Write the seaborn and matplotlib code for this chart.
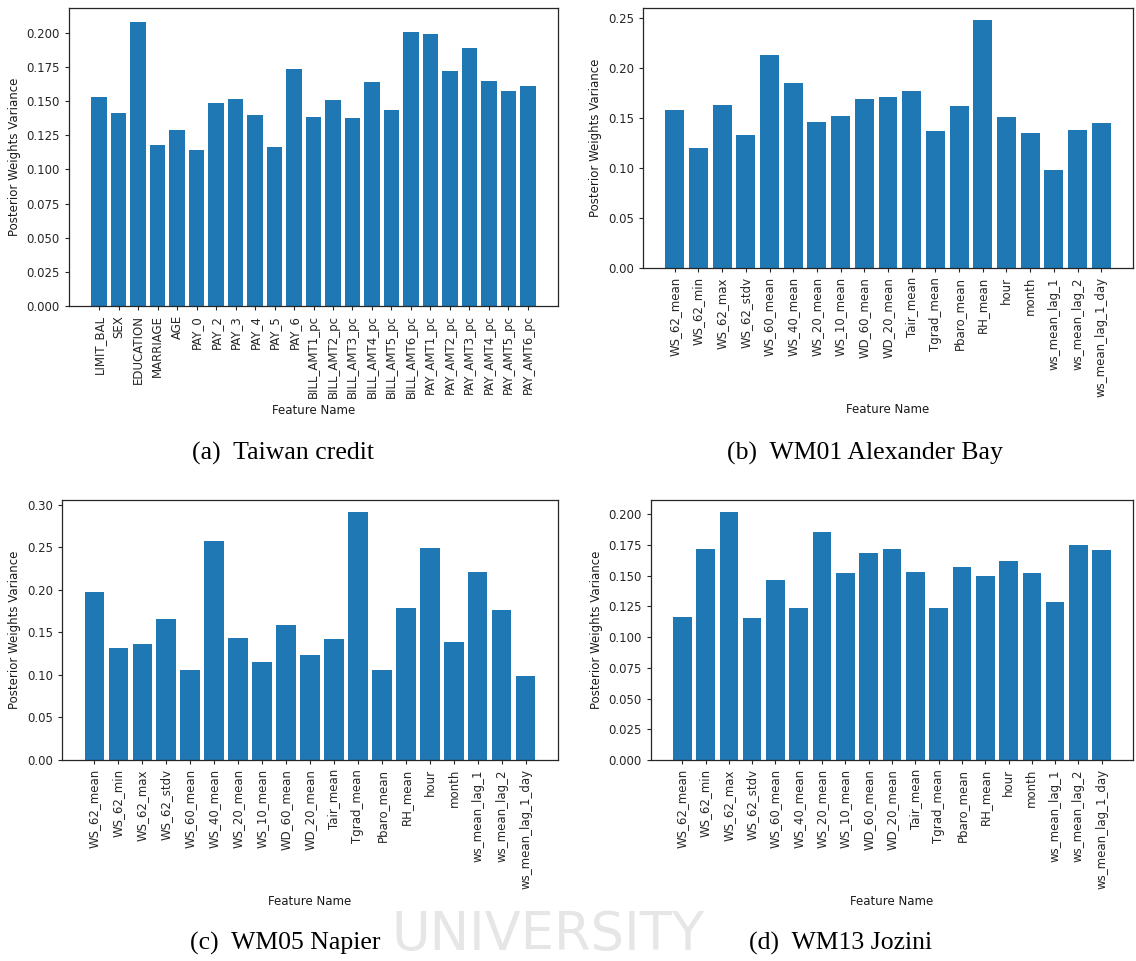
import matplotlib
matplotlib.use("Agg")
import matplotlib.pyplot as plt
import seaborn as sns
import pandas as pd

# Features and posterior weight variances for each dataset
taiwan_features = [
    "LIMIT_BAL", "SEX", "EDUCATION", "MARRIAGE", "AGE", "PAY_0", "PAY_2",
    "PAY_3", "PAY_4", "PAY_5", "PAY_6", "BILL_AMT1_pc", "BILL_AMT2_pc",
    "BILL_AMT3_pc", "BILL_AMT4_pc", "BILL_AMT5_pc", "BILL_AMT6_pc",
    "PAY_AMT1_pc", "PAY_AMT2_pc", "PAY_AMT3_pc", "PAY_AMT4_pc",
    "PAY_AMT5_pc", "PAY_AMT6_pc",
]
taiwan_variance = [
    0.1529, 0.1411, 0.2078, 0.1177, 0.1287, 0.1140, 0.1485, 0.1514,
    0.1397, 0.1162, 0.1734, 0.1382, 0.1507, 0.1375, 0.1639, 0.1433,
    0.2005, 0.1990, 0.1719, 0.1888, 0.1646, 0.1573, 0.1609,
]

wind_features = [
    "WS_62_mean", "WS_62_min", "WS_62_max", "WS_62_stdv", "WS_60_mean",
    "WS_40_mean", "WS_20_mean", "WS_10_mean", "WD_60_mean", "WD_20_mean",
    "Tair_mean", "Tgrad_mean", "Pbaro_mean", "RH_mean", "hour", "month",
    "ws_mean_lag_1", "ws_mean_lag_2", "ws_mean_lag_1_day",
]
alexander_bay_variance = [
    0.1583, 0.1201, 0.1633, 0.1332, 0.2135, 0.1854, 0.1463, 0.1523,
    0.1693, 0.1713, 0.1774, 0.1372, 0.1623, 0.2477, 0.1513, 0.1352,
    0.0981, 0.1382, 0.1452,
]
napier_variance = [
    0.1979, 0.1319, 0.1366, 0.1661, 0.1060, 0.2568, 0.1437, 0.1154,
    0.1590, 0.1237, 0.1425, 0.2910, 0.1060, 0.1791, 0.2486, 0.1390,
    0.2215, 0.1767, 0.0990,
]
jozini_variance = [
    0.1167, 0.1720, 0.2014, 0.1159, 0.1460, 0.1240, 0.1851, 0.1517,
    0.1680, 0.1720, 0.1533, 0.1240, 0.1566, 0.1493, 0.1615, 0.1525,
    0.1289, 0.1745, 0.1712,
]

captions = ["(a)  Taiwan credit", "(b)  WM01 Alexander Bay",
            "(c)  WM05 Napier", "(d)  WM13 Jozini"]

sns.set_style("ticks")
plt.rcParams.update({
    "font.family": "DejaVu Sans",
    "font.size": 8.5,
    "axes.labelsize": 8.5,
    "xtick.labelsize": 8.5,
    "ytick.labelsize": 8.5,
    "axes.edgecolor": "0.15",
    "axes.linewidth": 0.9,
    "xtick.color": "0.15",
    "ytick.color": "0.15",
    "xtick.major.size": 3,
    "ytick.major.size": 3,
    "xtick.major.width": 0.8,
    "ytick.major.width": 0.8,
    "text.color": "0.1",
    "axes.labelcolor": "0.1",
})

W, H = 1136, 961
fig = plt.figure(figsize=(W / 100, H / 100), dpi=100)


def px_axes(left, top, right, bottom):
    return fig.add_axes([left / W, 1 - bottom / H, (right - left) / W, (bottom - top) / H])


def draw_panel(ax, features, values):
    df = pd.DataFrame({"Feature Name": features,
                       "Posterior Weights Variance": values})
    sns.barplot(data=df, x="Feature Name", y="Posterior Weights Variance",
                color="#1f77b4", saturation=1, width=0.8, linewidth=0, ax=ax)
    n = len(features)
    pad = 0.05 * (n - 1 + 0.8)
    ax.set_xlim(-0.4 - pad, n - 1 + 0.4 + pad)
    ax.tick_params(axis="x", labelrotation=90)
    for side in ("top", "right", "left", "bottom"):
        ax.spines[side].set_visible(True)


panels = [
    ((69, 8, 558, 306), taiwan_features, taiwan_variance, (283, 453)),
    ((643, 8, 1133, 268), wind_features, alexander_bay_variance, (865, 453)),
    ((62, 500, 558, 760), wind_features, napier_variance, (285, 943)),
    ((651, 500, 1133, 760), wind_features, jozini_variance, (841, 943)),
]

# Faint watermark lettering at the foot of the page
fig.text(548 / W, 1 - 950 / H, "UNIVERSITY", ha="center", va="baseline",
         fontsize=38, color="#e6e6e6", family="DejaVu Sans", zorder=0)

for (rect, feats, vals, cap_xy), cap in zip(panels, captions):
    ax = px_axes(*rect)
    draw_panel(ax, feats, vals)
    fig.text(cap_xy[0] / W, 1 - cap_xy[1] / H, cap, ha="center", va="center",
             fontsize=18.5, family="Liberation Serif", color="black")

fig.savefig("out.png", dpi=100)
